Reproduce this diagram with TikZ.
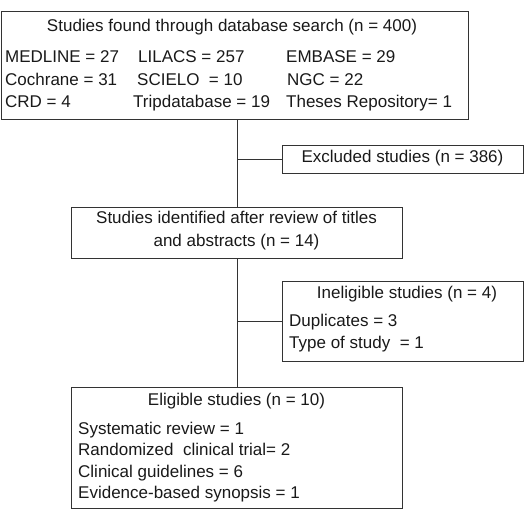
\documentclass[tikz,border=0pt]{standalone}
\usepackage{fontspec}
\setmainfont{Liberation Sans}
\begin{document}
\begin{tikzpicture}[x=1pt,y=-1pt,
  box/.style={draw=black!80, line width=1pt, inner sep=0pt},
  lnk/.style={draw=black!80, line width=1pt},
  txt/.style={inner sep=0pt, anchor=mid west, font=\fontsize{17}{20}\selectfont, text=black!90},
  ctxt/.style={inner sep=0pt, anchor=mid, font=\fontsize{17}{20}\selectfont, text=black!90}]
\useasboundingbox (0,0) rectangle (532,511);
% boxes
\node[box, minimum width=467pt, minimum height=107pt] (top) at (234.5,65.5) {};
\node[box, minimum width=241pt, minimum height=28pt] (exc) at (402.5,159) {};
\node[box, minimum width=331pt, minimum height=51pt] (ide) at (236.5,232.5) {};
\node[box, minimum width=241pt, minimum height=80pt] (ine) at (402.5,321) {};
\node[box, minimum width=331pt, minimum height=121pt] (eli) at (236.5,448) {};
% texts top
\node[ctxt] (t0) at (232,29) {Studies found through database search (n = 400)};
\node[txt] (t1) at (5,60) {MEDLINE = 27};
\node[txt] (t2) at (138,60) {LILACS = 257};
\node[txt] (t3) at (286,60) {EMBASE = 29};
\node[txt] (t4) at (5,83) {Cochrane = 31};
\node[txt] (t5) at (137,83) {SCIELO\ \ = 10};
\node[txt] (t6) at (287,83) {NGC = 22};
\node[txt] (t7) at (5,105) {CRD = 4};
\node[txt] (t8) at (133,105) {Tripdatabase = 19};
\node[txt] (t9) at (286,105) {Theses Repository= 1};
% excluded
\node[ctxt] (e0) at (402.5,160) {Excluded studies (n = 386)};
% identified
\node[ctxt] (i0) at (236.5,221) {Studies identified after review of titles};
\node[ctxt] (i1) at (236.5,244) {and abstracts (n = 14)};
% ineligible
\node[ctxt] (n0) at (407,296) {Ineligible studies (n = 4)};
\node[txt] (n1) at (289,324) {Duplicates = 3};
\node[txt] (n2) at (289,346) {Type of study\ \ = 1};
% eligible
\node[ctxt] (l0) at (236.5,403) {Eligible studies (n = 10)};
\node[txt] (l1) at (78,432) {Systematic review = 1};
\node[txt] (l2) at (78,453) {Randomized\ \ clinical trial= 2};
\node[txt] (l3) at (78,474.5) {Clinical guidelines = 6};
\node[txt] (l4) at (78,496) {Evidence-based synopsis = 1};
% connectors
\coordinate (tx) at (237,0);
\draw[lnk] (top.south -| tx) -- (ide.north -| tx);
\draw[lnk] (ide.south -| tx) -- (eli.north -| tx);
\draw[lnk] (exc.west -| tx) -- (exc.west);
\draw[lnk] (ine.west -| tx) -- (ine.west);
\end{tikzpicture}
\end{document}
